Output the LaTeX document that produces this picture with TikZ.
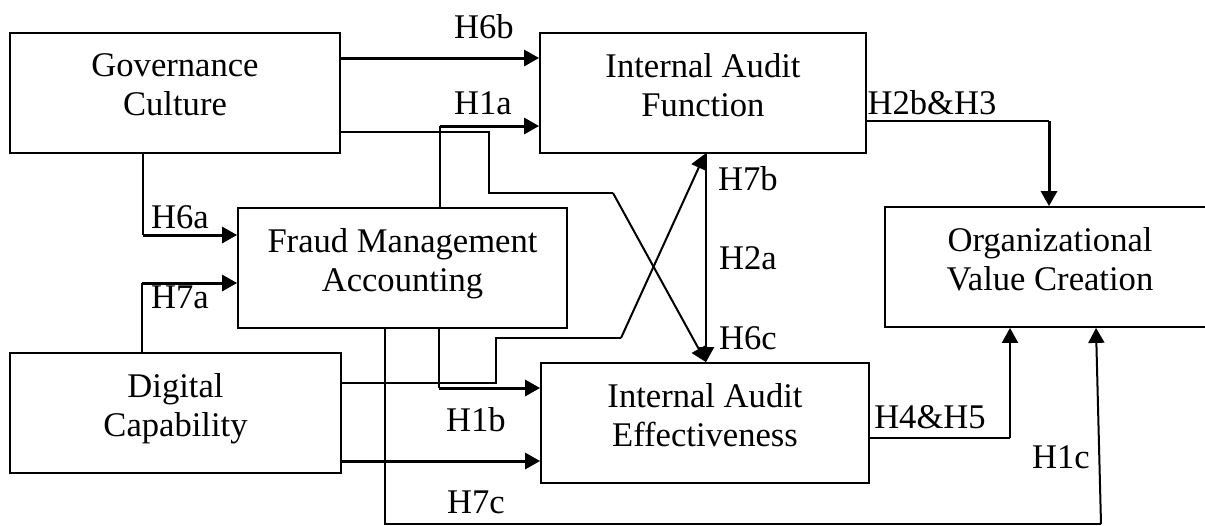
\documentclass[tikz,border=0pt]{standalone}
\usepackage{fontspec}
\setmainfont{Liberation Serif}
\usetikzlibrary{arrows.meta,calc,positioning}

\tikzset{
  box/.style={draw, line width=0.9pt, minimum height=60pt, align=center, inner sep=0pt, text depth=8.5pt, font=\fontsize{17.3}{19.5}\selectfont},
  main/.style={-{Triangle[length=7.5pt,width=8pt]}, line width=1.5pt},
  diag/.style={-{Triangle[length=7.5pt,width=8pt]}, line width=1pt},
  link/.style={line width=0.7pt},
  lbl/.style={inner sep=0pt, font=\fontsize{17.3}{19.5}\selectfont}
}

\begin{document}
\begin{tikzpicture}[x=0.5pt, y=-0.5pt]
  \clip (0,0) rectangle (1205,525);

  % Constructs
  \node[box, minimum width=165pt] (gov) at (175,93) {Governance\\Culture};
  \node[box, minimum width=163pt] (iaf) at (703,93) {Internal Audit\\Function};
  \node[box, minimum width=164.5pt] (fma) at (402.5,268) {Fraud Management\\Accounting};
  \node[box, minimum width=165.5pt] (dig) at (175.5,413) {Digital\\Capability};
  \node[box, minimum width=164pt] (iae) at (705,423) {Internal Audit\\Effectiveness};
  \node[box, minimum width=165pt] (ovc) at (1050,267) {Organizational\\Value Creation};

  % Bend points
  \coordinate (k6a) at (143,235);
  \coordinate (k7a) at (142,283);
  \coordinate (k1a) at (440,126);
  \coordinate (k1b) at (439,388);
  \coordinate (k6c) at (613,193);
  \coordinate (k7b) at (621,338);
  \coordinate (k23) at (1049,121);
  \coordinate (k45) at (1010,438);
  \coordinate (k1c) at (1101,524);

  % Governance Culture
  \draw[main] (gov.east |- 0,58) -- (iaf.west |- 0,58);
  \draw[link] (gov.south -| k6a) -- (k6a);
  \draw[main] (k6a) -- (fma.west |- k6a);
  \draw[link] (gov.east |- 0,132) -| (489,193) -- (k6c);
  \draw[diag] (k6c) -- (iae.north -| 706,0);

  % Digital Capability
  \draw[link] (dig.north -| k7a) -- (k7a);
  \draw[main] (k7a) -- (fma.west |- k7a);
  \draw[link] (dig.east |- 0,383) -| (496,338) -- (k7b);
  \draw[diag] (k7b) -- (iaf.south -| 705,0);
  \draw[main] (dig.east |- 0,461) -- (iae.west |- 0,461);

  % Fraud Management Accounting
  \draw[link] (fma.north -| k1a) -- (k1a);
  \draw[main] (k1a) -- (iaf.west |- k1a);
  \draw[link] (fma.south -| k1b) -- (k1b);
  \draw[main] (k1b) -- (iae.west |- k1b);
  \draw[link] (fma.south -| 385,0) |- (k1c);
  \draw[diag] (k1c) -- (ovc.south -| 1096,0);

  % Internal audit
  \draw[diag] (iaf.south -| 706,0) -- (iae.north -| 706,0);
  \draw[link] (iaf.east |- k23) -- (k23);
  \draw[main] (k23) -- (ovc.north -| k23);
  \draw[link] (iae.east |- k45) -- (k45);
  \draw[diag] (k45) -- (ovc.south -| k45);

  % Hypotheses
  \node[lbl] (h6b) at (484,27) {H6b};
  \node[lbl] (h1a) at (483,103) {H1a};
  \node[lbl] (h6a) at (180,217) {H6a};
  \node[lbl] (h7a) at (180,297) {H7a};
  \node[lbl] (h7b) at (748,179) {H7b};
  \node[lbl] (h2a) at (748,258) {H2a};
  \node[lbl] (h6c) at (748,338) {H6c};
  \node[lbl] (h1b) at (476,420) {H1b};
  \node[lbl] (h7c) at (476,502) {H7c};
  \node[lbl] (h23) at (932,103) {H2b\&H3};
  \node[lbl] (h45) at (930,417) {H4\&H5};
  \node[lbl] (h1c) at (1061,457) {H1c};
\end{tikzpicture}
\end{document}
